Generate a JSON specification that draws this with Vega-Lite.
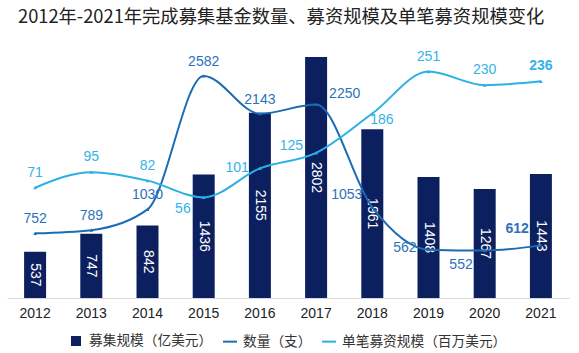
{
  "$schema": "https://vega.github.io/schema/vega-lite/v6.json",
  "width": 562,
  "height": 258,
  "autosize": {"type": "none"},
  "padding": {"left": 7, "top": 40, "right": 10, "bottom": 55},
  "background": "white",
  "title": {
    "text": "2012年-2021年完成募集基金数量、募资规模及单笔募资规模变化",
    "anchor": "start",
    "frame": "group",
    "font": "Noto Sans CJK SC",
    "fontSize": 18.3,
    "fontWeight": "normal",
    "color": "#222222",
    "dx": 11,
    "offset": 13
  },
  "config": {"view": {"stroke": null}, "font": "Liberation Sans"},
  "data": {
    "values": [
      {"year": "2012", "bar": 537, "count": 752, "per": 71},
      {"year": "2013", "bar": 747, "count": 789, "per": 95},
      {"year": "2014", "bar": 842, "count": 1030, "per": 82},
      {"year": "2015", "bar": 1436, "count": 2582, "per": 56},
      {"year": "2016", "bar": 2155, "count": 2143, "per": 101},
      {"year": "2017", "bar": 2802, "count": 2250, "per": 125},
      {"year": "2018", "bar": 1961, "count": 1053, "per": 186},
      {"year": "2019", "bar": 1408, "count": 562, "per": 251},
      {"year": "2020", "bar": 1267, "count": 552, "per": 230},
      {"year": "2021", "bar": 1443, "count": 612, "per": 236}
    ]
  },
  "encoding": {
    "x": {
      "field": "year",
      "type": "ordinal",
      "scale": {"paddingInner": 0, "paddingOuter": 0},
      "axis": {
        "title": null,
        "labelAngle": 0,
        "labelFont": "Liberation Sans",
        "labelFontSize": 14,
        "labelColor": "#222222",
        "ticks": false,
        "domainColor": "#d9d9d9",
        "domainWidth": 1,
        "labelPadding": 8
      }
    }
  },
  "layer": [
    {
      "layer": [
        {
          "mark": {"type": "bar", "size": 22},
          "encoding": {
            "y": {"field": "bar", "type": "quantitative", "scale": {"domain": [0, 3000]}, "axis": null},
            "color": {
              "datum": "募集规模（亿美元）",
              "scale": {
                "domain": ["募集规模（亿美元）", "数量（支）", "单笔募资规模（百万美元）"],
                "range": ["#0c2060", "#1c6cb4", "#2bb0e6"]
              },
              "legend": {
                "title": null,
                "orient": "none",
                "legendX": 61,
                "legendY": 293,
                "direction": "horizontal",
                "padding": 0,
                "labelFont": "Noto Sans CJK SC",
                "labelFontSize": 13.7,
                "labelColor": "#333333",
                "labelLimit": 400,
                "columnPadding": 6,
                "labelOffset": 5,
                "encode": {
                  "symbols": {
                    "update": {
                      "shape": {"signal": "datum.value === '募集规模（亿美元）' ? 'square' : 'stroke'"},
                      "fill": {"signal": "datum.value === '募集规模（亿美元）' ? '#0c2060' : 'transparent'"},
                      "stroke": {"signal": "datum.value === '募集规模（亿美元）' ? '#0c2060' : (datum.value === '数量（支）' ? '#1c6cb4' : '#2bb0e6')"},
                      "strokeWidth": {"value": 2},
                      "size": {"signal": "datum.value === '募集规模（亿美元）' ? 64 : 196"},
                      "opacity": {"value": 1}
                    }
                  }
                }
              }
            }
          }
        },
        {
          "transform": [{"calculate": "datum.bar / 2", "as": "mid"}],
          "mark": {"type": "text", "angle": 90, "color": "white", "fontSize": 14, "align": "center", "baseline": "middle"},
          "encoding": {
            "y": {"field": "mid", "type": "quantitative", "scale": {"domain": [0, 3000]}, "axis": null},
            "text": {"field": "bar", "type": "nominal"}
          }
        },
        {
          "mark": {"type": "line", "interpolate": "monotone", "strokeWidth": 2},
          "encoding": {
            "y": {"field": "count", "type": "quantitative", "scale": {"domain": [0, 3000]}, "axis": null},
            "color": {"datum": "数量（支）"}
          }
        },
        {
          "mark": {"type": "point", "shape": "triangle-up", "size": 14, "filled": true, "opacity": 1, "color": "#1c6cb4"},
          "encoding": {
            "y": {"field": "count", "type": "quantitative", "scale": {"domain": [0, 3000]}, "axis": null}
          }
        },
        {
          "transform": [{"filter": {"field": "year", "oneOf": ["2012", "2013", "2014", "2015", "2016"]}}],
          "mark": {"type": "text", "color": "#2b72ba", "fontSize": 14, "align": "center", "baseline": "middle", "dy": -14},
          "encoding": {
            "y": {"field": "count", "type": "quantitative", "scale": {"domain": [0, 3000]}, "axis": null},
            "text": {"field": "count", "type": "nominal"}
          }
        },
        {
          "transform": [{"filter": {"field": "year", "equal": "2017"}}],
          "mark": {"type": "text", "color": "#2b72ba", "fontSize": 14, "align": "left", "baseline": "middle", "dx": 13, "dy": -11},
          "encoding": {
            "y": {"field": "count", "type": "quantitative", "scale": {"domain": [0, 3000]}, "axis": null},
            "text": {"field": "count", "type": "nominal"}
          }
        },
        {
          "transform": [{"filter": {"field": "year", "equal": "2018"}}],
          "mark": {"type": "text", "color": "#2b72ba", "fontSize": 14, "align": "right", "baseline": "middle", "dx": -10, "dy": -12},
          "encoding": {
            "y": {"field": "count", "type": "quantitative", "scale": {"domain": [0, 3000]}, "axis": null},
            "text": {"field": "count", "type": "nominal"}
          }
        },
        {
          "transform": [{"filter": {"field": "year", "equal": "2019"}}],
          "mark": {"type": "text", "color": "#2b72ba", "fontSize": 14, "align": "right", "baseline": "middle", "dx": -12, "dy": -2},
          "encoding": {
            "y": {"field": "count", "type": "quantitative", "scale": {"domain": [0, 3000]}, "axis": null},
            "text": {"field": "count", "type": "nominal"}
          }
        },
        {
          "transform": [{"filter": {"field": "year", "equal": "2020"}}],
          "mark": {"type": "text", "color": "#2b72ba", "fontSize": 14, "align": "right", "baseline": "middle", "dx": -12, "dy": 14},
          "encoding": {
            "y": {"field": "count", "type": "quantitative", "scale": {"domain": [0, 3000]}, "axis": null},
            "text": {"field": "count", "type": "nominal"}
          }
        },
        {
          "transform": [{"filter": {"field": "year", "equal": "2021"}}],
          "mark": {"type": "text", "color": "#2b72ba", "fontSize": 14, "fontWeight": "bold", "align": "right", "baseline": "middle", "dx": -12, "dy": -16},
          "encoding": {
            "y": {"field": "count", "type": "quantitative", "scale": {"domain": [0, 3000]}, "axis": null},
            "text": {"field": "count", "type": "nominal"}
          }
        }
      ]
    },
    {
      "layer": [
        {
          "mark": {"type": "line", "interpolate": "monotone", "strokeWidth": 2},
          "encoding": {
            "y": {"field": "per", "type": "quantitative", "scale": {"domain": [-100, 300]}, "axis": null},
            "color": {"datum": "单笔募资规模（百万美元）"}
          }
        },
        {
          "mark": {"type": "point", "shape": "triangle-up", "size": 14, "filled": true, "opacity": 1, "color": "#2bb0e6"},
          "encoding": {
            "y": {"field": "per", "type": "quantitative", "scale": {"domain": [-100, 300]}, "axis": null}
          }
        },
        {
          "transform": [{"filter": {"field": "year", "oneOf": ["2012", "2013", "2014", "2019", "2020"]}}],
          "mark": {"type": "text", "color": "#35b2e8", "fontSize": 14, "align": "center", "baseline": "middle", "dy": -15},
          "encoding": {
            "y": {"field": "per", "type": "quantitative", "scale": {"domain": [-100, 300]}, "axis": null},
            "text": {"field": "per", "type": "nominal"}
          }
        },
        {
          "transform": [{"filter": {"field": "year", "equal": "2021"}}],
          "mark": {"type": "text", "color": "#35b2e8", "fontSize": 14, "fontWeight": "bold", "align": "center", "baseline": "middle", "dy": -15},
          "encoding": {
            "y": {"field": "per", "type": "quantitative", "scale": {"domain": [-100, 300]}, "axis": null},
            "text": {"field": "per", "type": "nominal"}
          }
        },
        {
          "transform": [{"filter": {"field": "year", "equal": "2015"}}],
          "mark": {"type": "text", "color": "#35b2e8", "fontSize": 14, "align": "right", "baseline": "middle", "dx": -13, "dy": 12},
          "encoding": {
            "y": {"field": "per", "type": "quantitative", "scale": {"domain": [-100, 300]}, "axis": null},
            "text": {"field": "per", "type": "nominal"}
          }
        },
        {
          "transform": [{"filter": {"field": "year", "equal": "2016"}}],
          "mark": {"type": "text", "color": "#35b2e8", "fontSize": 14, "align": "right", "baseline": "middle", "dx": -11, "dy": 0},
          "encoding": {
            "y": {"field": "per", "type": "quantitative", "scale": {"domain": [-100, 300]}, "axis": null},
            "text": {"field": "per", "type": "nominal"}
          }
        },
        {
          "transform": [{"filter": {"field": "year", "equal": "2017"}}],
          "mark": {"type": "text", "color": "#35b2e8", "fontSize": 14, "align": "right", "baseline": "middle", "dx": -13, "dy": -7},
          "encoding": {
            "y": {"field": "per", "type": "quantitative", "scale": {"domain": [-100, 300]}, "axis": null},
            "text": {"field": "per", "type": "nominal"}
          }
        },
        {
          "transform": [{"filter": {"field": "year", "equal": "2018"}}],
          "mark": {"type": "text", "color": "#35b2e8", "fontSize": 14, "align": "left", "baseline": "middle", "dx": -2, "dy": 6},
          "encoding": {
            "y": {"field": "per", "type": "quantitative", "scale": {"domain": [-100, 300]}, "axis": null},
            "text": {"field": "per", "type": "nominal"}
          }
        }
      ]
    }
  ],
  "resolve": {"scale": {"y": "independent"}}
}
